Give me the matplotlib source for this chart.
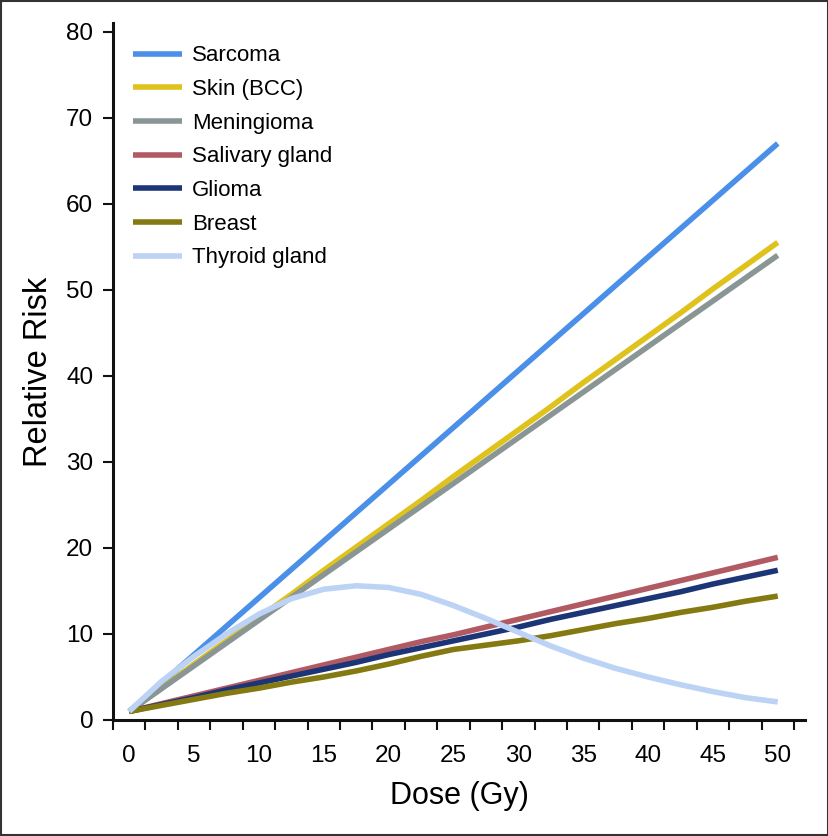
import matplotlib
matplotlib.use("Agg")
import matplotlib.pyplot as plt
from matplotlib.patches import Rectangle
from matplotlib.ticker import FixedLocator

plt.rcParams['font.family'] = ['Liberation Sans', 'DejaVu Sans']

dose = [0, 2.5, 5, 7.5, 10, 12.5, 15, 17.5, 20, 22.5, 25, 27.5, 30,
        32.5, 35, 37.5, 40, 42.5, 45, 47.5, 50]

sarcoma = [1, 4.3, 7.6, 10.9, 14.2, 17.5, 20.8, 24.1, 27.4, 30.7, 34.0,
           37.3, 40.6, 43.9, 47.2, 50.5, 53.8, 57.1, 60.4, 63.7, 67.0]
skin = [1, 3.7, 6.5, 9.2, 11.9, 14.6, 17.4, 20.1, 22.8, 25.5, 28.3,
        31.0, 33.7, 36.4, 39.2, 41.9, 44.6, 47.3, 50.1, 52.8, 55.5]
meningioma = [1, 3.65, 6.3, 8.95, 11.6, 14.25, 16.9, 19.55, 22.2, 24.85, 27.5,
              30.15, 32.8, 35.45, 38.1, 40.75, 43.4, 46.05, 48.7, 51.35, 54.0]
salivary = [1, 1.9, 2.8, 3.7, 4.6, 5.5, 6.4, 7.3, 8.2, 9.1, 9.9,
            10.8, 11.7, 12.6, 13.5, 14.4, 15.3, 16.2, 17.1, 18.0, 18.9]
glioma = [1, 1.8, 2.6, 3.5, 4.3, 5.1, 5.9, 6.7, 7.6, 8.4, 9.2,
          10.0, 10.8, 11.7, 12.5, 13.3, 14.1, 14.9, 15.8, 16.6, 17.4]
breast = [1, 1.7, 2.4, 3.1, 3.7, 4.4, 5.0, 5.7, 6.5, 7.4, 8.2,
          8.7, 9.2, 9.8, 10.5, 11.2, 11.8, 12.5, 13.1, 13.8, 14.4]
thyroid = [1, 4.5, 7.4, 10.0, 12.3, 14.1, 15.2, 15.6, 15.4, 14.6, 13.3,
           11.8, 10.2, 8.6, 7.2, 6.0, 5.0, 4.1, 3.3, 2.6, 2.1]

labels = ["Sarcoma", "Skin (BCC)", "Meningioma", "Salivary gland",
          "Glioma", "Breast", "Thyroid gland"]
series = [sarcoma, skin, meningioma, salivary, glioma, breast, thyroid]
colors = ["#4a8fe8", "#dfc21c", "#8a9695", "#b25a63", "#1b3577",
          "#857a12", "#bcd3f6"]

xticks = [0, 5, 10, 15, 20, 25, 30, 35, 40, 45, 50]
yticks = [0, 10, 20, 30, 40, 50, 60, 70, 80]

W, H = 829, 836
fig = plt.figure(figsize=(W / 100, H / 100), dpi=100)
ax = fig.add_axes([113 / W, 1 - 720 / H, (805 - 113) / W, (720 - 23) / H])

for ys, lab, c in zip(series, labels, colors):
    ax.plot(dose, ys, color=c, lw=4.0, label=lab, solid_capstyle='butt',
            solid_joinstyle='round')

ax.set_xlim(-1.25, 52.1)
ax.set_ylim(0, 81)

for s in ['top', 'right']:
    ax.spines[s].set_visible(False)
for s in ['left', 'bottom']:
    ax.spines[s].set_linewidth(2.2)
    ax.spines[s].set_color('#111111')

ax.set_yticks(yticks)
ax.tick_params(axis='y', direction='out', length=7.2, width=1.5,
               labelsize=17.5, pad=7, color='#111111')
ax.set_xticks(xticks)
ax.xaxis.set_minor_locator(FixedLocator([-1.25 + 2.5 * k for k in range(22)]))
ax.tick_params(axis='x', which='major', length=0, labelsize=17.5, pad=18)
ax.tick_params(axis='x', which='minor', direction='out', length=7.2,
               width=1.5, color='#111111')

ax.set_xlabel("Dose (Gy)", fontsize=22, labelpad=10)
ax.set_ylabel("Relative Risk", fontsize=23.5, labelpad=9)

leg = ax.legend(loc='upper left', bbox_to_anchor=(0.029, 0.968),
                frameon=False, fontsize=16, handlelength=2.2,
                handletextpad=0.45, labelspacing=0.57, borderpad=0,
                borderaxespad=0)
for h in leg.get_lines():
    h.set_linewidth(4)

fig.patches.append(Rectangle((0.0015, 0.0015), 0.997, 0.997,
                             transform=fig.transFigure, fill=False,
                             edgecolor='#333333', lw=1.5))

fig.savefig("out.png", dpi=100)
